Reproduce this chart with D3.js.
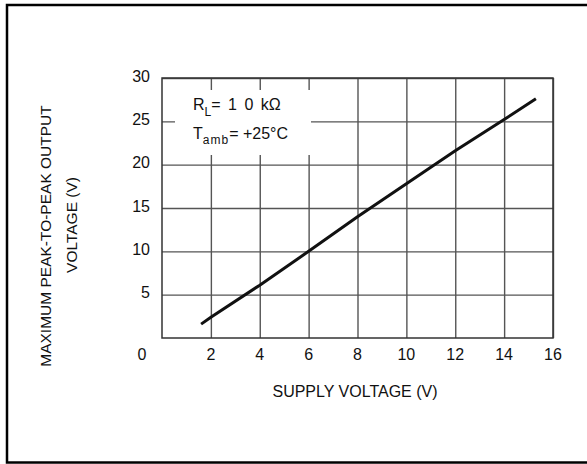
<!DOCTYPE html>
<html>
<head>
<meta charset="UTF-8" />
<title>Output swing vs supply</title>
<script src="https://d3js.org/d3.v7.min.js"></script>
<style>
    body { margin: 0; background: #fff; }
    text { font-family: "Liberation Sans Narrow", "Arial Narrow", "Liberation Sans", sans-serif; fill: #111; }
    .grid line { stroke: #555; stroke-width: 1.4px; }
    .grid path { display: none; }
</style>
</head>
<body>
<svg id="chart" width="587" height="464"></svg>
<script>
    // curve
    var supplyV = [1.6, 2, 4, 6, 8, 10, 12, 14, 15.3];
    var outputVpp = [1.6, 2.4, 6.1, 10, 14, 17.8, 21.6, 25.2, 27.6];
    var xTicks = [2, 4, 6, 8, 10, 12, 14, 16];
    var yTicks = [5, 10, 15, 20, 25, 30];

    var svg = d3.select('#chart');
    var plotL = 162, plotR = 553, plotT = 78, plotB = 338;

    var x = d3.scaleLinear().domain([0, 16]).range([plotL, plotR]);
    var y = d3.scaleLinear().domain([0, 30]).range([plotB, plotT]);

    // outer frame (runs off the right side of the picture)
    svg.append('rect')
        .attr('x', 7).attr('y', 5)
        .attr('width', 600).attr('height', 457.5)
        .attr('fill', 'none').attr('stroke', '#000').attr('stroke-width', 2.5);

    // vertical grid
    svg.append('g')
        .attr('class', 'grid')
        .attr('transform', 'translate(0,' + plotB + ')')
        .call(d3.axisBottom(x).tickValues(xTicks).tickSize(-(plotB - plotT)).tickFormat(''));

    // horizontal grid
    svg.append('g')
        .attr('class', 'grid')
        .attr('transform', 'translate(' + plotL + ',0)')
        .call(d3.axisLeft(y).tickValues(yTicks).tickSize(-(plotR - plotL)).tickFormat(''));

    // white box behind the conditions
    svg.append('rect')
        .attr('x', 175).attr('y', 90)
        .attr('width', 136).attr('height', 65)
        .attr('fill', '#fff');

    // plot frame
    svg.append('rect')
        .attr('x', plotL).attr('y', plotT)
        .attr('width', plotR - plotL).attr('height', plotB - plotT)
        .attr('fill', 'none').attr('stroke', '#333').attr('stroke-width', 1.5);

    // tick labels
    svg.append('g').selectAll('text')
        .data(xTicks).enter().append('text')
        .attr('x', function (d) { return x(d); })
        .attr('y', 360)
        .attr('text-anchor', 'middle')
        .attr('font-size', 16)
        .text(function (d) { return d; });

    svg.append('g').selectAll('text')
        .data(yTicks).enter().append('text')
        .attr('x', plotL - 12)
        .attr('y', function (d) { return y(d) + 3.5; })
        .attr('text-anchor', 'end')
        .attr('font-size', 16)
        .text(function (d) { return d; });

    // shared origin label
    svg.append('text')
        .attr('x', x(0) - 20).attr('y', 360)
        .attr('text-anchor', 'middle')
        .attr('font-size', 16)
        .text('0');

    // the curve
    var line = d3.line()
        .x(function (d, i) { return x(supplyV[i]); })
        .y(function (d) { return y(d); });

    svg.append('path')
        .datum(outputVpp)
        .attr('d', line)
        .attr('fill', 'none')
        .attr('stroke', '#111')
        .attr('stroke-width', 3);

    // axis titles
    svg.append('text')
        .attr('x', 355).attr('y', 397)
        .attr('text-anchor', 'middle')
        .attr('font-size', 16)
        .text('SUPPLY VOLTAGE (V)');

    svg.append('text')
        .attr('transform', 'translate(51,236) rotate(-90)')
        .attr('text-anchor', 'middle')
        .attr('font-size', 15.5)
        .text('MAXIMUM PEAK-TO-PEAK OUTPUT');

    svg.append('text')
        .attr('transform', 'translate(77,225) rotate(-90)')
        .attr('text-anchor', 'middle')
        .attr('font-size', 15.5)
        .text('VOLTAGE (V)');

    // conditions
    var rl = svg.append('text').attr('x', 193).attr('y', 110).attr('font-size', 16);
    rl.append('tspan').text('R');
    rl.append('tspan').attr('font-size', 12).attr('dy', 6).text('L');
    rl.append('tspan').attr('dy', -6).attr('word-spacing', 3).text('= 1 0  kΩ');

    var ta = svg.append('text').attr('x', 193).attr('y', 139).attr('font-size', 16);
    ta.append('tspan').text('T');
    ta.append('tspan').attr('font-size', 12).attr('dy', 5).attr('letter-spacing', 1).text('amb');
    ta.append('tspan').attr('dy', -5).text('= +25°C');
</script>
</body>
</html>
